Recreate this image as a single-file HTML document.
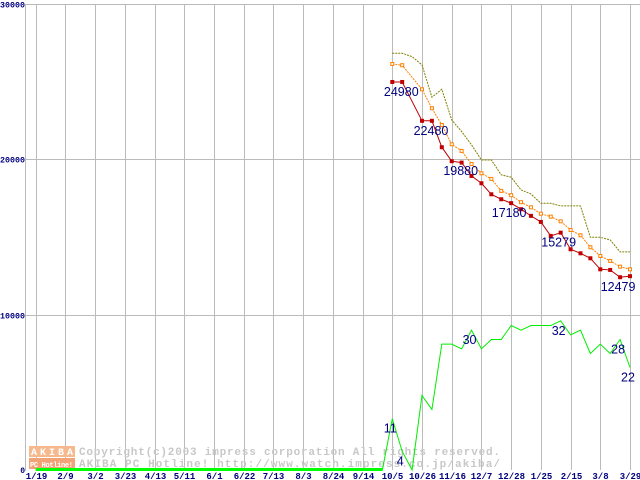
<!DOCTYPE html>
<html><head><meta charset="utf-8"><style>
html,body{margin:0;padding:0;background:#fff;}
svg{display:block;font-family:"Liberation Mono","DejaVu Sans Mono",monospace;}
</style></head><body>
<svg id="chart" width="640" height="480" viewBox="0 0 640 480" xmlns="http://www.w3.org/2000/svg">
<g id="grid"></g>
<g id="wm">
<rect x="29" y="446" width="46" height="11" fill="#f6b98e"/>
<rect x="29" y="458" width="46" height="11" fill="#f2a277"/>
<text x="31" y="455" font-size="10" font-weight="bold" fill="#fff" textLength="42">AKIBA</text>
<text x="30" y="467" font-size="7" font-weight="bold" fill="#fff" textLength="43">PC Hotline!</text>
<text x="79" y="455" font-size="11" font-weight="bold" fill="#c8c8c8" textLength="421">Copyright(c)2003 impress corporation All rights reserved.</text>
<text x="79" y="467" font-size="11" font-weight="bold" fill="#c8c8c8" textLength="421">AKIBA PC Hotline! http://www.watch.impress.co.jp/akiba/</text>
</g>
<g id="series"></g>
<g id="labels"></g>
</svg>
<script>
const xLabels=["1/19","2/9","3/2","3/23","4/13","5/11","6/1","6/22","7/13","8/3","8/24","9/14","10/5","10/26","11/16","12/7","12/28","1/25","2/15","3/8","3/29"];
const yTicks=[0,10000,20000,30000];
const minPrice=[24980,24980,null,22480,22480,20780,19880,19790,18930,18460,17750,17430,17180,16790,16360,15970,15070,15279,14210,13950,13630,12920,12880,12410,12479];
const avgPrice=[26140,26060,null,24510,23290,22210,20970,20540,19700,19100,18740,17970,17690,17240,16910,16500,16310,16010,15450,15110,14340,13780,13460,13090,12920];
const maxPrice=[26830,26830,26610,26080,24000,24510,22540,21790,20930,19960,19960,19000,18850,18030,17770,17170,17170,17000,17000,17000,14980,14980,14810,14040,14040];
const shopCount=[11,4,0,16,13,27,27,26,30,26,28,28,31,30,31,31,31,32,29,30,25,27,25,28,22];
const minLabelIdx=[0,3,6,12,17,23];
const minLabelText=["24980","22480","19880","17180","15279","12479"];
const countLabelIdx=[0,1,8,17,23,24];
const startIdx=36;
const NS="http://www.w3.org/2000/svg";
const X=i=>35.7+i*9.905;
const Y=v=>470-v*(466/30000);
const YC=c=>470-c*4.66;
const grid=document.getElementById('grid'),ser=document.getElementById('series'),lab=document.getElementById('labels');
function mk(tag,attrs,parent){const e=document.createElementNS(NS,tag);for(const k in attrs)e.setAttribute(k,attrs[k]);parent.appendChild(e);return e;}
let ax=mk('line',{x1:25.5,y1:4,x2:25.5,y2:471,stroke:'#bbb'},grid);


yTicks.forEach(t=>{
  const y=Math.round(Y(t))+0.5;
  if(t>0){const l=mk('line',{x1:25.5,y1:y,x2:640,y2:y,stroke:'#bbb'},grid);
  
  }
  const s=String(t);
  const tx=mk('text',{x:25,y:t===0?473:y+3,'text-anchor':'end','font-size':8,'font-weight':'bold',fill:'#000080'},grid);
  if(s.length>1){tx.setAttribute('textLength',s.length*5);tx.setAttribute('lengthAdjust','spacingAndGlyphs');}
  tx.textContent=s;
  
  
});
xLabels.forEach((s,k)=>{
  const x=Math.round(X(k*3))+0.5;
  const l=mk('line',{x1:x,y1:4,x2:x,y2:470,stroke:'#bbb'},grid);
  
  
  const t=mk('text',{x:x,y:479,'text-anchor':'middle','font-size':9,'font-weight':'bold',fill:'#000080'},grid);
  t.textContent=s;
  
  
});
function pts(arr,fy){return arr.map((v,i)=>v==null?null:[X(startIdx+i),fy(v)]).filter(p=>p);}
function poly(p,attrs,name){const e=mk('polyline',Object.assign({points:p.map(q=>q.join(',')).join(' '),fill:'none'},attrs),ser);
  
  return e;}
const gp=[];for(let i=0;i<startIdx;i++)gp.push([X(i),YC(0)]);
gp.push(...pts(shopCount,YC));
poly(gp,{stroke:'#00ee00','stroke-width':1},'shop-count-line');
poly([[X(0),469.5],[X(startIdx-1),469.5]],{stroke:'#00ff00','stroke-width':3},'zero-baseline');
poly(pts(maxPrice,Y),{stroke:'#808000','stroke-width':1,'stroke-dasharray':'2,1'},'max-price-line');
const ap=pts(avgPrice,Y);
poly(ap,{stroke:'#ff8000','stroke-width':1,'stroke-dasharray':'2,1'},'avg-price-line');
ap.forEach(p=>{const r=mk('rect',{x:p[0]-1.5,y:p[1]-1.5,width:3,height:3,fill:'#fff',stroke:'#ff8000','stroke-width':1},ser);
  
  });
const mp=pts(minPrice,Y);
poly(mp,{stroke:'#c00000','stroke-width':1},'min-price-line');
mp.forEach(p=>{const r=mk('rect',{x:p[0]-2,y:p[1]-2,width:4,height:4,fill:'#c00000'},ser);
  
  });
minLabelIdx.forEach((i,k)=>{const dx=k<3?9:-2;
  const t=mk('text',{x:X(startIdx+i)+dx,y:Y(minPrice[i])+14,'text-anchor':'middle','font-size':12.5,fill:'#000080','font-family':'Liberation Sans, sans-serif'},lab);
  t.textContent=minLabelText[k];
  
  });
countLabelIdx.forEach(i=>{const t=mk('text',{x:X(startIdx+i)-2,y:YC(shopCount[i])+14,'text-anchor':'middle','font-size':12.5,fill:'#000080','font-family':'Liberation Sans, sans-serif'},lab);
  t.textContent=String(shopCount[i]);
  
  });
</script>
</body></html>
